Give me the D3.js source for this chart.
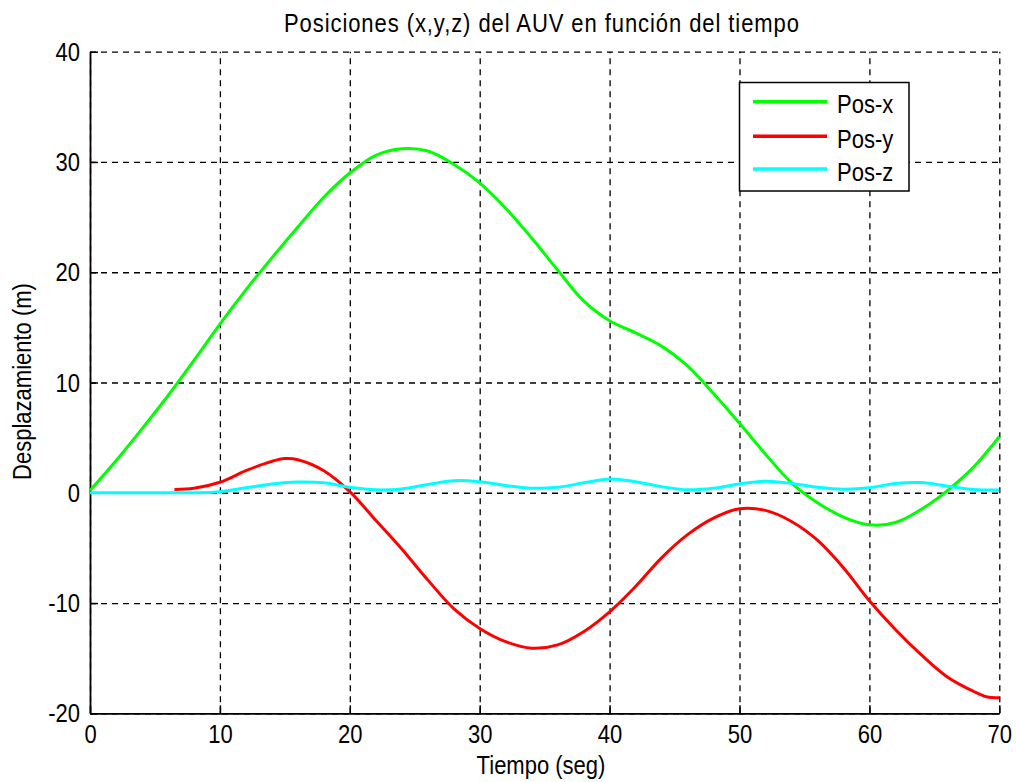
<!DOCTYPE html>
<html>
<head>
<meta charset="utf-8">
<script src="https://cdn.jsdelivr.net/npm/d3@7"></script>
<style>
  html, body { margin: 0; padding: 0; background: #fff; }
  svg { display: block; }
  text { font-family: "Liberation Sans", Arial, sans-serif; fill: #000; }
</style>
</head>
<body>
<svg id="chart" width="1016" height="782"></svg>
<script>
// ---------------- DATA ----------------
const timeGreen = [0,2,4,6,8,10,12,14,16,18,20,22,24,26,28,30,32,34,36,38,40,42,44,46,48,50,52,54,56,58,60,62,64,66,68,70];
const posX = [0.2,2.9,5.8,8.8,12.0,15.3,18.4,21.3,24.1,26.8,29.0,30.6,31.2,31.0,29.8,28.1,25.8,23.1,20.2,17.4,15.6,14.5,13.3,11.5,9.0,6.3,3.5,0.9,-0.9,-2.2,-2.9,-2.7,-1.5,0.2,2.3,5.1];

const timeRed = [6.5,8,10,12,14,15,16,18,20,22,24,26,28,30,32,34,36,38,40,42,44,46,48,50,52,54,56,58,60,62,64,66,68,69,70];
const posY = [0.3,0.4,0.95,2.0,2.85,3.1,3.0,2.0,0.1,-2.5,-5.1,-7.9,-10.5,-12.3,-13.5,-14.1,-13.8,-12.6,-10.8,-8.5,-5.9,-3.8,-2.3,-1.45,-1.6,-2.6,-4.3,-6.8,-9.8,-12.4,-14.7,-16.7,-18.0,-18.5,-18.6];

const timeCyan = [0,2,4,6,8,10,12,14,16,18,20,22,24,26,28,30,32,34,36,38,40,42,44,46,48,50,52,54,56,58,60,62,64,66,68,70];
const posZ = [0,0,0,0,0,0.1,0.45,0.8,0.97,0.9,0.5,0.27,0.35,0.75,1.1,1.0,0.65,0.42,0.5,0.9,1.25,1.0,0.55,0.27,0.4,0.8,1.05,0.85,0.5,0.32,0.45,0.85,0.92,0.6,0.3,0.25];

const xTicks = [0,10,20,30,40,50,60,70];
const yTicks = [-20,-10,0,10,20,30,40];
const seriesNames = ["Pos-x","Pos-y","Pos-z"];
const seriesColors = ["#00ff00","#ff0000","#00ffff"];
const titleText = "Posiciones (x,y,z) del AUV en función del tiempo";
const xLabel = "Tiempo (seg)";
const yLabel = "Desplazamiento (m)";

// ---------------- LAYOUT ----------------
const mLeft = 90, mRight = 999.3, mTop = 51.7, mBottom = 713.3;
const FS = 22, K = 1.13; // font size and vertical stretch
const fmt = d => String(d);

const svg = d3.select("#chart");
const x = d3.scaleLinear().domain([0,70]).range([mLeft,mRight]);
const y = d3.scaleLinear().domain([-20,40]).range([mBottom,mTop]);

// grid
const grid = svg.append("g");
grid.append("g").attr("transform",`translate(0,${mBottom})`)
  .call(d3.axisBottom(x).tickValues(xTicks).tickSize(-(mBottom-mTop)).tickFormat(""))
  .call(g => g.select(".domain").remove())
  .call(g => g.selectAll("line").attr("stroke","#000").attr("stroke-width",1.3).attr("stroke-dasharray","6,5"));
grid.append("g").attr("transform",`translate(${mLeft},0)`)
  .call(d3.axisLeft(y).tickValues(yTicks).tickSize(-(mRight-mLeft)).tickFormat(""))
  .call(g => g.select(".domain").remove())
  .call(g => g.selectAll("line").attr("stroke","#000").attr("stroke-width",1.3).attr("stroke-dasharray","6,5"));

// axes
const xAxis = svg.append("g").attr("transform",`translate(0,${mBottom})`)
  .call(d3.axisBottom(x).tickValues(xTicks).tickFormat(fmt).tickSize(-8).tickSizeOuter(0).tickPadding(0));
xAxis.select(".domain").attr("stroke","#000").attr("stroke-width",1.8);
xAxis.selectAll("line").attr("stroke","#000").attr("stroke-width",1.5);
xAxis.selectAll("text")
  .attr("y",null).attr("dy",null)
  .attr("transform",`translate(0,29.5) scale(1,${K})`)
  .style("font-size",FS+"px").attr("fill","#1a1a1a");

const yAxis = svg.append("g").attr("transform",`translate(${mLeft},0)`)
  .call(d3.axisLeft(y).tickValues(yTicks).tickFormat(fmt).tickSize(-8).tickSizeOuter(0).tickPadding(0));
yAxis.select(".domain").attr("stroke","#000").attr("stroke-width",1.8);
yAxis.selectAll("line").attr("stroke","#000").attr("stroke-width",1.5);
yAxis.selectAll("text")
  .attr("x",null).attr("dy",null)
  .attr("transform",`translate(-10,8.5) scale(1,${K})`)
  .style("font-size",FS+"px").attr("fill","#1a1a1a");
svg.selectAll("g").attr("font-family",null).attr("font-size",null);

// lines
const plot = svg.append("g");
function drawLine(ts, vs, color) {
  const data = ts.map((t,i) => [t, vs[i]]);
  plot.append("path").datum(data)
    .attr("fill","none").attr("stroke",color).attr("stroke-width",3)
    .attr("stroke-linejoin","round")
    .attr("d", d3.line().x(d => x(d[0])).y(d => y(d[1])).curve(d3.curveCatmullRom.alpha(0.5)));
}
drawLine(timeGreen, posX, seriesColors[0]);
drawLine(timeRed, posY, seriesColors[1]);
drawLine(timeCyan, posZ, seriesColors[2]);

// title and labels
svg.append("text")
  .attr("transform",`translate(541.5,32) scale(1,${K})`)
  .attr("text-anchor","middle").style("font-size",FS+"px")
  .attr("textLength",515).attr("lengthAdjust","spacing")
  .attr("fill","#1a1a1a").text(titleText);
svg.append("text")
  .attr("transform",`translate(541,774) scale(1,${K})`)
  .attr("text-anchor","middle").style("font-size",FS+"px")
  .attr("fill","#1a1a1a").text(xLabel);
svg.append("text")
  .attr("transform",`translate(31,${(mTop+mBottom)/2 - 1}) rotate(-90) scale(1,${K})`)
  .attr("text-anchor","middle").style("font-size",FS+"px")
  .attr("fill","#1a1a1a").text(yLabel);

// legend
const lg = svg.append("g");
lg.append("rect").attr("x",739.5).attr("y",82.5).attr("width",169.5).attr("height",108.5)
  .attr("fill","#fff").attr("stroke","#000").attr("stroke-width",1.5);
const rowY = [101.7,136.3,169];
seriesNames.forEach((name,i) => {
  lg.append("line").attr("x1",753).attr("x2",827).attr("y1",rowY[i]).attr("y2",rowY[i])
    .attr("stroke",seriesColors[i]).attr("stroke-width",3.5);
  lg.append("text")
    .attr("transform",`translate(837,${rowY[i]+11.5}) scale(1,${K})`)
    .style("font-size",FS+"px").attr("fill","#1a1a1a").text(name);
});
</script>
</body>
</html>
